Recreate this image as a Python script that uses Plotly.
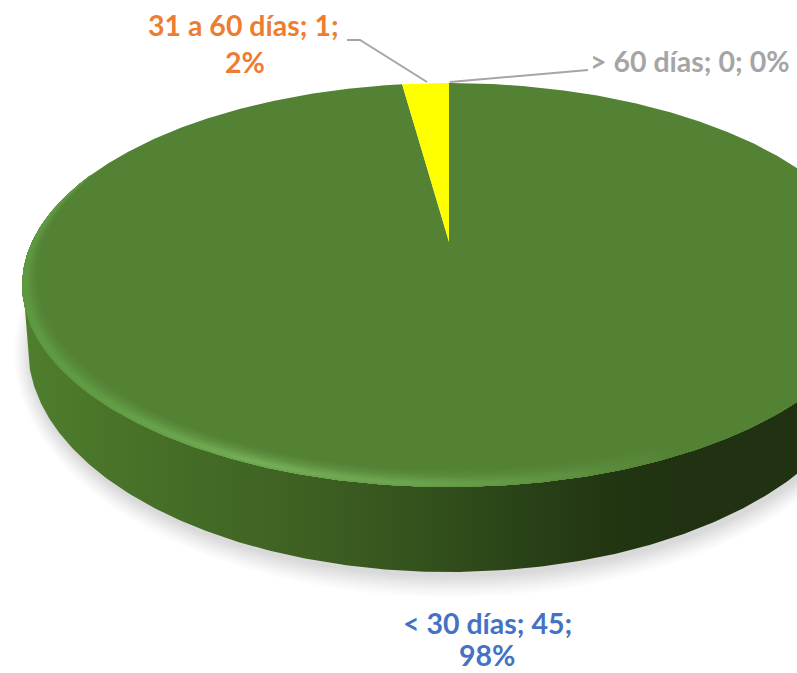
import numpy as np
import plotly.graph_objects as go

categories = ["< 30 días", "31 a 60 días", "> 60 días"]
values = [45, 1, 0]
percents = [98, 2, 0]
slice_colors = ["#548235", "#FFFF00", "#A5A5A5"]
label_colors = ["#4472C4", "#ED7D31", "#A5A5A5"]

W, H = 797, 673
CX = 449
TOP, APEX, BOTTOM = 83.0, 242.0, 487.0
RADIUS = 417.0
# perspective of the tilted disc
c = (2 * APEX - TOP - BOTTOM) / (BOTTOM - TOP)
a = BOTTOM * (1 + c) - APEX


def project(theta, rho=1.0):
    u = rho * np.sin(theta)
    v = -rho * np.cos(theta)
    d = 1 + c * v
    return CX + RADIUS * u / d, (a * v + APEX) / d


def blend(c1, c2, w):
    p = [int(c1[i:i + 2], 16) for i in (1, 3, 5)]
    q = [int(c2[i:i + 2], 16) for i in (1, 3, 5)]
    r = [round(p[i] + (q[i] - p[i]) * w) for i in range(3)]
    return "rgb(%d,%d,%d)" % tuple(r)


fig = go.Figure()


def poly(x, y, fill=None, gradient=None, name=None):
    kw = {}
    if gradient is not None:
        kw["fillgradient"] = gradient
    else:
        kw["fillcolor"] = fill
    fig.add_trace(go.Scatter(x=x, y=y, mode="lines", fill="toself", line=dict(width=0),
                             hoverinfo="skip", showlegend=False, name=name, **kw))


# soft shadow below the wall
SIDE_RX, SIDE_CY, SIDE_RY = 421.0, 348.0, 224.0
t = np.linspace(0, 2 * np.pi, 300)
for d in range(26, -1, -2):
    w = ((26 - d) / 26) ** 1.3
    poly(CX + 2 + (SIDE_RX + d * 0.7) * np.cos(t), SIDE_CY + 5 + (SIDE_RY + d * 0.9) * np.sin(t),
         fill=blend("#FFFFFF", "#D9D9D9", w))

# wall of the disc
t = np.linspace(0, np.pi, 300)
sx = CX - SIDE_RX * np.cos(t)
sy = SIDE_CY + SIDE_RY * np.sin(t)
side_x = np.r_[CX - 426, sx, CX + 426]
side_y = np.r_[285, sy, 285]
side_stops = [(0, "#4F7E2E"), (0.1, "#4A7529"), (0.25, "#436925"), (0.38, "#3D5F22"),
              (0.5, "#34531D"), (0.62, "#2B4518"), (0.74, "#233713"), (0.85, "#203211"),
              (1, "#203211")]
poly(side_x, side_y, gradient=dict(type="horizontal", start=25, stop=797,
                                   colorscale=[[p, col] for p, col in side_stops]),
     name="wall")

# slices computed from the values
total = sum(values)
start = 0.0
for cat, val, col in zip(categories, values, slice_colors):
    sweep = 2 * np.pi * val / total
    if val > 0:
        th = np.linspace(start, start + sweep, max(3, int(val * 30)))
        x, y = project(th)
        poly(np.r_[CX, x, CX], np.r_[APEX, y, APEX], fill=col, name=cat)
    start += sweep

# bevel of the rim
th0, th1 = np.radians(68), np.radians(292)
th = np.linspace(th0, th1, 400)
env = np.sin((th - th0) / (th1 - th0) * np.pi) ** 0.6
ox, oy = project(th)
base = slice_colors[0]
hi_stops = [(0.0, "#5E9A42"), (0.1, "#619D45"), (0.3, "#74AE56"), (0.5, "#6CA44F"),
            (0.68, "#5F9443"), (0.85, base), (1.0, base)]
profile = [(11, .05), (10, .12), (9, .2), (8, .3), (7, .42), (6, .55), (5, .7), (4, .85),
           (3, .97), (2, 1.0), (1, .85)]
for d, w in profile:
    ix, iy = project(th, 1 - d * env / 200)
    scale = [[p, blend(base, col, w)] for p, col in hi_stops]
    poly(np.r_[ox, ix[::-1]], np.r_[oy, iy[::-1]],
         gradient=dict(type="horizontal", start=23, stop=797, colorscale=scale), name="rim")

# leader lines
lead_x = [[347, 360, 427], [450, 582, 588]]
lead_y = [[40, 40, 82], [82, 70, 70]]
for lx, ly in zip(lead_x, lead_y):
    fig.add_trace(go.Scatter(x=lx, y=ly, mode="lines", line=dict(color="#A5A5A5", width=2),
                             hoverinfo="skip", showlegend=False))


def label(text, x, y, col):
    fig.add_annotation(x=x, y=y, text=text, showarrow=False, xanchor="center", yanchor="middle",
                       font=dict(family="Lato", size=28.5, color=col, weight="bold"))


label(f"{categories[1]}; {values[1]};", 243, 25, label_colors[1])
label(f"{percents[1]}%", 245, 62, label_colors[1])
label(f"{categories[2]}; {values[2]}; {percents[2]}%", 690, 61, label_colors[2])
label(f"{categories[0]}; {values[0]};", 487, 623, label_colors[0])
label(f"{percents[0]}%", 487, 655, label_colors[0])

fig.update_layout(
    width=W, height=H, margin=dict(l=0, r=0, t=0, b=0), autosize=False,
    paper_bgcolor="white", plot_bgcolor="white", showlegend=False,
    xaxis=dict(range=[0, W], visible=False, fixedrange=True),
    yaxis=dict(range=[H, 0], visible=False, fixedrange=True),
)
fig.write_html("out.html", config={"displayModeBar": False},
               post_script="document.body.style.margin='0';document.body.style.overflow='hidden';")
